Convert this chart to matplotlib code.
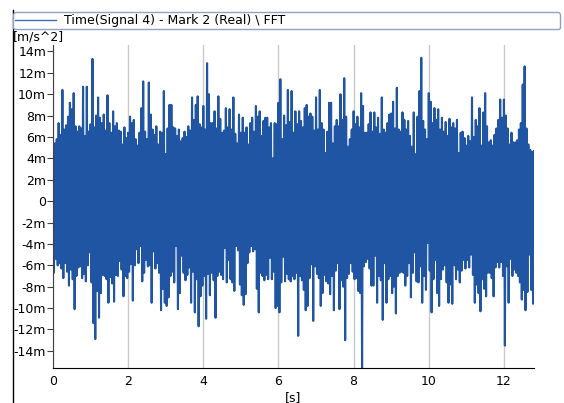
import numpy as np
import matplotlib.pyplot as plt
from matplotlib.lines import Line2D
from matplotlib.ticker import FuncFormatter, MultipleLocator

plt.rcParams['path.simplify'] = False

# local peak values of the signal, one pair every 0.05 s  [m/s^2 * 1e-3]
upper = [
    5.6, 5.4, 5.8, 7.3, 6.2, 10.4, 6.7, 7.1, 7.9, 9.2,
    8.6, 10.1, 7.0, 6.5, 7.0, 6.8, 10.7, 6.1, 10.7, 6.5,
    7.2, 13.3, 6.9, 8.0, 9.7, 7.8, 7.3, 8.1, 6.6, 9.9,
    7.3, 6.4, 8.4, 7.0, 7.3, 6.6, 6.5, 5.3, 6.9, 5.9,
    6.4,
    7.9, 7.3, 7.6, 5.8, 5.2, 6.4, 8.7, 11.2, 6.5, 5.8,
    11.1, 8.1, 6.7, 6.2, 7.0, 5.3, 6.5, 6.4, 10.3, 4.4,
    6.8, 9.0, 9.0, 6.9, 6.8, 6.1, 6.7, 5.6, 5.9, 6.5,
    6.0, 7.0, 6.6, 9.7, 7.6, 9.0, 9.8, 7.2, 6.9, 8.9,
    6.7, 12.9, 10.0, 7.3,
    7.3, 8.4, 6.8, 9.8, 7.7, 6.4, 6.6, 8.7, 6.9, 8.6,
    6.7, 9.7, 6.3, 5.4, 8.1, 6.4, 7.8, 6.4, 6.9, 5.3,
    7.3, 7.8, 6.5, 8.9, 7.9, 8.4, 6.1, 7.5, 7.8, 7.8,
    6.9, 7.3, 4.0, 7.3, 7.2, 9.2, 11.4, 5.8, 8.0, 7.1,
    10.4, 7.4,
    10.3, 6.4, 8.4, 7.2, 8.4, 7.5, 6.9, 8.7, 9.0, 7.9,
    8.2, 7.9, 6.6, 9.7, 6.7, 10.4, 7.3, 6.7, 4.5, 6.5,
    9.2, 9.2, 5.4, 7.0, 7.6, 7.0, 10.0, 7.6, 11.5, 7.9,
    5.1, 5.8, 6.7, 8.4, 7.2, 7.9, 6.9, 10.1, 8.9, 6.4,
    6.4, 7.2, 8.3,
    6.5, 8.3, 6.9, 7.8, 6.3, 9.7, 6.7, 6.4, 7.3, 8.1,
    8.2, 9.3, 6.8, 10.6, 6.7, 6.5, 8.3, 7.6, 6.7, 7.5,
    6.1, 5.1, 8.3, 4.4, 7.9, 10.3, 13.4, 7.5, 6.7, 5.8,
    10.1, 9.3, 7.3, 8.7, 7.6, 8.6, 6.7, 7.8, 6.5, 7.4,
    6.1, 7.7, 6.9,
    7.3, 6.8, 7.6, 4.5, 6.4, 6.5, 5.9, 5.2, 6.1, 5.6,
    9.7, 6.0, 7.6, 7.0, 8.7, 5.2, 8.3, 10.1, 7.0, 5.5,
    5.7, 5.2, 6.2, 6.8, 7.6, 9.5, 7.8, 9.5, 8.0, 6.8,
    5.3, 6.4, 5.5, 5.5, 5.7, 6.7, 7.3, 10.9, 12.6, 6.8,
    5.3, 4.8, 4.6, 4.7,
]
lower = [
    -6.7, -5.4, -6.0, -5.8, -6.3, -7.2, -5.8, -6.6, -7.9, -6.4,
    -7.3, -10.1, -7.0, -6.2, -6.1, -7.2, -6.8, -7.5, -6.0, -4.8,
    -7.6, -11.4, -12.9, -8.4, -10.9, -8.6, -6.9, -7.0, -7.3, -9.5,
    -7.1, -7.7, -9.4, -6.9, -7.0, -5.6, -6.4, -8.9, -7.0, -7.2,
    -6.6,
    -5.9, -9.3, -6.0, -4.5, -5.8, -4.2, -7.5, -6.7, -5.5, -6.1,
    -6.0, -9.5, -4.7, -6.3, -5.8, -6.7, -10.2, -8.2, -9.5, -9.8,
    -9.0, -7.0, -6.6, -7.6, -4.2, -10.1, -8.6, -5.1, -6.7, -7.4,
    -6.9, -6.2, -9.5, -6.6, -10.4, -7.3, -11.7, -8.9, -7.9, -7.0,
    -11.0, -6.8, -8.8, -6.7,
    -7.4, -10.9, -7.0, -6.6, -6.9, -7.3, -4.4, -7.6, -5.5, -7.3,
    -7.6, -8.4, -4.2, -4.6, -7.8, -8.8, -9.7, -8.7, -5.8, -4.8,
    -4.2, -4.7, -4.5, -8.2, -10.4, -6.7, -7.0, -7.4, -6.9, -7.3,
    -5.3, -7.3, -6.6, -10.0, -9.8, -10.4, -7.6, -5.2, -7.5, -6.8,
    -7.3, -7.5, -7.0,
    -7.3, -6.7, -12.6, -7.0, -7.4, -8.3, -10.2, -9.8, -7.2, -5.9,
    -11.2, -6.1, -6.8, -7.2, -9.8, -8.6, -6.9, -7.5, -7.7, -8.7,
    -7.0, -10.2, -6.5, -5.8, -10.1, -7.4, -8.0, -13.0, -7.2, -6.8,
    -5.8, -6.6, -7.3, -7.2, -8.4, -8.6, -16.0, -6.1, -5.7, -5.4,
    -6.3, -7.9,
    -7.9, -5.1, -9.5, -7.0, -7.4, -11.1, -5.8, -9.5, -7.3, -7.0,
    -8.6, -8.0, -10.5, -7.0, -6.7, -6.6, -6.7, -7.9, -7.0, -5.8,
    -9.0, -6.7, -4.8, -7.5, -7.6, -6.1, -9.5, -7.0, -8.3, -3.9,
    -6.5, -10.4, -7.3, -5.5, -8.6, -9.8, -7.3, -6.4, -6.0, -7.6,
    -9.5, -7.8, -9.6,
    -6.0, -7.3, -6.4, -7.6, -6.5, -5.5, -6.3, -5.5, -6.2, -5.0,
    -6.9, -9.5, -7.8, -8.6, -10.3, -7.3, -8.2, -8.9, -6.7, -6.7,
    -7.2, -8.9, -6.2, -5.7, -6.2, -5.7, -7.0, -13.5, -6.1, -9.5,
    -5.4, -7.0, -6.4, -6.7, -7.0, -7.6, -9.2, -8.3, -10.2, -8.5,
    -5.0, -8.3, -9.6, -6.7,
]
dt = 0.05
label = 'Time(Signal 4) - Mark 2 (Real) \\ FFT'

t_up = np.arange(len(upper)) * dt
t_lo = t_up + dt / 2
t = np.column_stack([t_up, t_lo]).ravel()
y = np.column_stack([upper, lower]).ravel()

W, H = 564, 403
fig = plt.figure(figsize=(W / 100, H / 100), dpi=100)
ax = fig.add_axes([53 / W, 1 - 368 / H, (534 - 53) / W, (368 - 45) / H])

blue = '#1f55a3'
ax.plot(t, y, color=blue, lw=1.5)

ax.set_xlim(0, 12.8)
ax.set_ylim(-15.6, 14.6)
ax.xaxis.set_major_locator(MultipleLocator(2))
ax.yaxis.set_major_locator(MultipleLocator(2))
ax.yaxis.set_major_formatter(FuncFormatter(lambda v, p: '0' if abs(v) < 1e-9 else f'{v:.0f}m'))
ax.grid(axis='x', color='#c8c8c8', lw=1)
ax.set_axisbelow(True)

for s in ('top', 'right'):
    ax.spines[s].set_visible(False)
ax.spines['left'].set_color('#404040')
ax.spines['bottom'].set_color('black')
ax.tick_params(axis='y', length=4, color='#404040', labelsize=9, pad=1)
ax.tick_params(axis='x', length=0, labelsize=9, pad=5)

handle = Line2D([], [], color='#3c6cb4', lw=1.0)
fig.legend([handle], [label], loc='lower left',
           bbox_to_anchor=(13 / W, 1 - 29 / H, 547 / W, 18 / H),
           mode='expand', fancybox=True, framealpha=1, edgecolor='#8fa3bf',
           fontsize=9, handlelength=3.3, borderpad=0.15, handletextpad=0.6,
           borderaxespad=0)

fig.text(13 / W, 1 - 37 / H, '[m/s^2]', va='center', fontsize=9)
fig.text(293 / W, 1 - 398 / H, '[s]', ha='center', va='center', fontsize=9)
fig.add_artist(Line2D([12.5 / W, 12.5 / W], [0, 1 - 10 / H], color='black', lw=1))

fig.savefig('out.png', dpi=100)
